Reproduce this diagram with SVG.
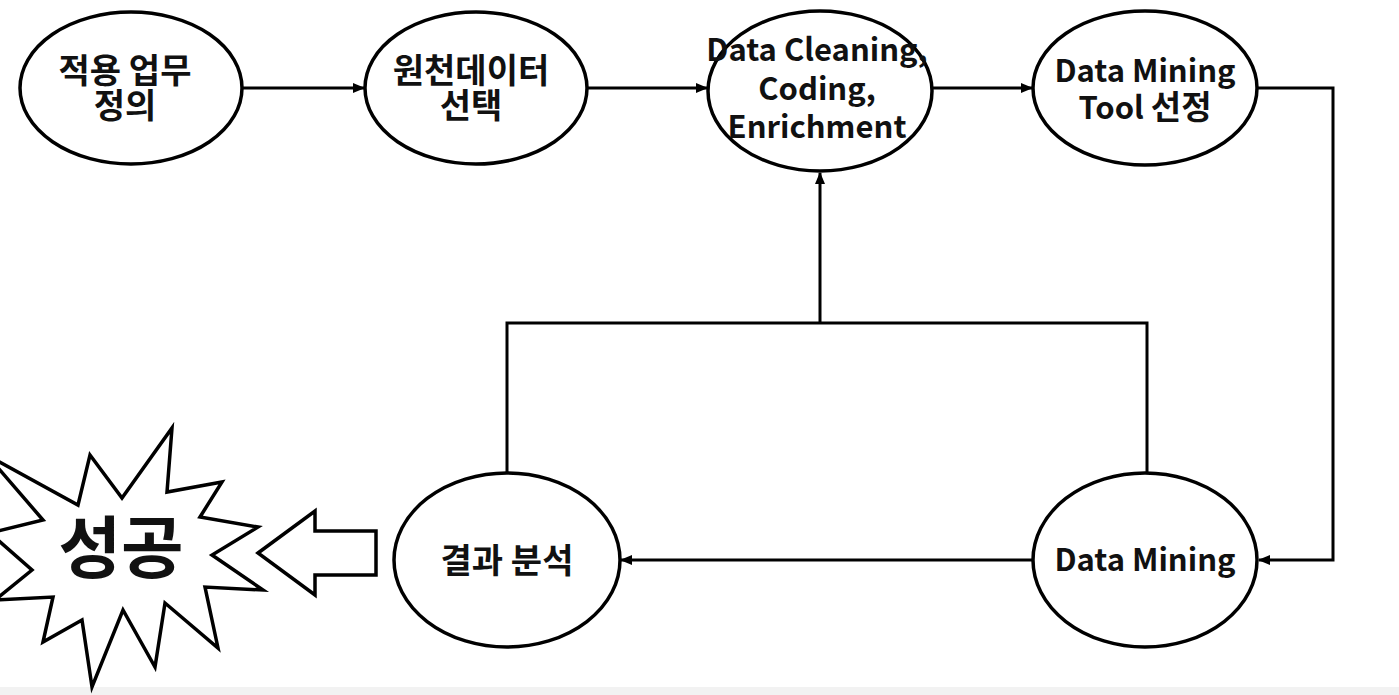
<svg xmlns="http://www.w3.org/2000/svg" width="1399" height="695" viewBox="0 0 1399 695">
<defs>
<marker id="ah" markerWidth="12" markerHeight="10" refX="11" refY="5" orient="auto" markerUnits="userSpaceOnUse">
<path d="M0,0 L12,5 L0,10 Z" fill="#000"/>
</marker>
<style>
.n{fill:#fff;stroke:#000;stroke-width:3.5}
.t{font-family:"Noto Sans CJK KR","Noto Sans",sans-serif;font-weight:bold;font-size:31px;fill:#111;text-anchor:middle}
.k{font-size:34px}
.c{fill:none;stroke:#000;stroke-width:3}
</style>
</defs>
<rect width="1399" height="695" fill="#fff"/>
<rect x="0" y="687" width="1399" height="8" fill="#f2f2f2"/>
<g id="connectors">
<line class="c" x1="243" y1="88" x2="364" y2="88" marker-end="url(#ah)"/>
<line class="c" x1="588" y1="88" x2="707" y2="88" marker-end="url(#ah)"/>
<line class="c" x1="932" y1="88" x2="1032" y2="88" marker-end="url(#ah)"/>
<polyline class="c" points="1258,88 1333,88 1333,560 1259,560" marker-end="url(#ah)"/>
<line class="c" x1="1033" y1="560" x2="621" y2="560" marker-end="url(#ah)"/>
<polyline class="c" points="507,473 507,323 1147,323 1147,473"/>
<line class="c" x1="820" y1="323" x2="820" y2="173" marker-end="url(#ah)"/>
</g>
<g id="n1"><ellipse class="n" cx="131" cy="88" rx="111" ry="76"/>
<text class="t k" x="125" y="83">적용 업무</text><text class="t k" x="125" y="118">정의</text></g>
<g id="n2"><ellipse class="n" cx="476" cy="88" rx="111" ry="76"/>
<text class="t k" x="471" y="83">원천데이터</text><text class="t k" x="471" y="118">선택</text></g>
<g id="n3"><ellipse class="n" cx="820" cy="91" rx="112" ry="80"/>
<text class="t" x="817" y="61">Data Cleaning,</text><text class="t" x="817" y="100">Coding,</text><text class="t" x="817" y="138">Enrichment</text></g>
<g id="n4"><ellipse class="n" cx="1145" cy="88" rx="112" ry="77"/>
<text class="t" x="1145" y="82">Data Mining</text><text class="t" x="1145" y="119">Tool <tspan style="font-size:33px">선정</tspan></text></g>
<g id="n5"><ellipse class="n" cx="1145" cy="560" rx="112" ry="87"/>
<text class="t" x="1145" y="571">Data Mining</text></g>
<g id="n6"><ellipse class="n" cx="507" cy="560" rx="113" ry="87"/>
<text class="t k" x="507" y="573">결과 분석</text></g>
<g id="arrow"><polygon class="n" stroke-width="3" points="258,553 315,511 315,531 376,531 376,575 315,575 315,595"/></g>
<g id="success"><polygon class="n" stroke-width="3" points="-13,455 43,520 -10,533 32,570 -5,600 53,597 43,642 82,620 92,687 123,610 155,667 165,603 218,648 205,587 263,590 212,555 258,527 200,517 222,482 167,492 172,428 122,498 90,455 78,505"/>
<text class="t" x="121" y="573" style="font-size:68px">성공</text></g>
</svg>
